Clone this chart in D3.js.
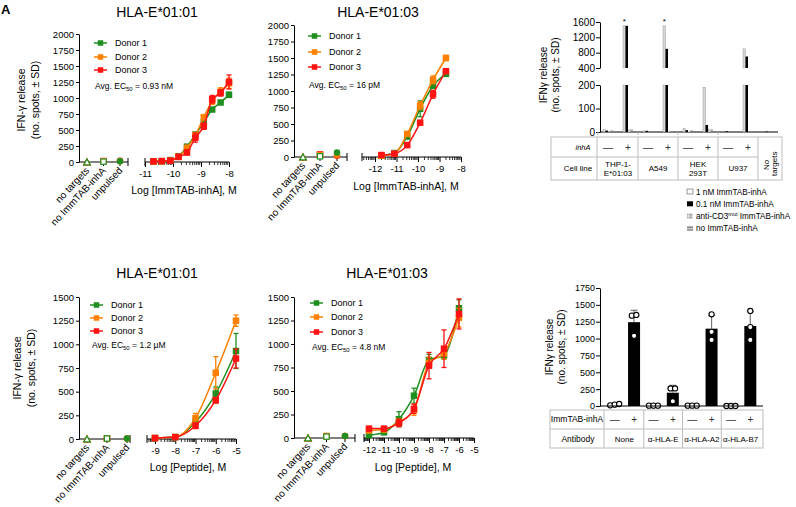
<!DOCTYPE html>
<html>
<head>
<meta charset="utf-8">
<script src="https://cdn.jsdelivr.net/npm/d3@7"></script>
<style>
  body { margin: 0; background: #fff; }
  svg { font-family: "Liberation Sans", Arial, sans-serif; }
</style>
</head>
<body>
<svg id="fig" width="796" height="507"></svg>
<script>
// ---------- data ----------
var donors = ['Donor 1', 'Donor 2', 'Donor 3'];
var donorColors = ['#1f8f1f', '#ff8000', '#ff1212'];
var controls = ['no targets', 'no ImmTAB-inhA', 'unpulsed'];

// ImmTAB-inhA titration, HLA-E*01:01 (log M)
var logImmtab0101 = [-10.7, -10.4, -10.1, -9.8, -9.5, -9.2, -8.9, -8.6, -8.3, -8.0];
var spotsImmtab0101 = [
  [10, 10, 30, 90, 240, 430, 620, 820, 930, 1050],
  [10, 10, 20, 80, 220, 420, 700, 950, 1100, 1230],
  [10, 15, 20, 80, 150, 380, 560, 980, 1080, 1250]
];
var sdImmtab0101 = [
  [5, 5, 10, 10, 20, 30, 40, 30, 20, 40],
  [5, 5, 10, 10, 40, 40, 40, 50, 60, 80],
  [5, 5, 10, 10, 40, 70, 50, 60, 50, 110]
];
var ctrlImmtab0101 = [[0, 5, 10], [0, 10, 10], [0, 15, 20]];

// ImmTAB-inhA titration, HLA-E*01:03
var logImmtab0103 = [-11.7, -11.1, -10.5, -9.9, -9.3, -8.7];
var spotsImmtab0103 = [
  [20, 60, 310, 730, 1080, 1260],
  [20, 50, 350, 780, 1170, 1500],
  [30, 50, 180, 520, 950, 1300]
];
var sdImmtab0103 = [
  [10, 10, 30, 120, 40, 20],
  [10, 10, 20, 60, 60, 40],
  [10, 10, 20, 30, 60, 30]
];
var ctrlImmtab0103 = [[0, 10, 70], [0, 30, 30], [0, 40, 20]];

// peptide titration, HLA-E*01:01
var logPeptide0101 = [-9, -8, -7, -6, -5];
var spotsPeptide0101 = [
  [10, 20, 180, 480, 930],
  [10, 20, 220, 700, 1250],
  [10, 20, 140, 410, 850]
];
var sdPeptide0101 = [
  [5, 5, 40, 70, 185],
  [5, 5, 50, 170, 60],
  [5, 5, 30, 30, 100]
];
var ctrlPeptide0101 = [[0, 5, 5], [0, 5, 5], [0, 5, 5]];

// peptide titration, HLA-E*01:03
var logPeptide0103 = [-12, -11, -10, -9, -8, -7, -6];
var spotsPeptide0103 = [
  [30, 60, 200, 450, 830, 880, 1380],
  [80, 90, 170, 300, 800, 900, 1280],
  [100, 100, 160, 310, 770, 950, 1320]
];
var sdPeptide0103 = [
  [10, 10, 80, 80, 60, 40, 90],
  [10, 10, 30, 60, 60, 60, 100],
  [10, 10, 40, 50, 140, 200, 160]
];
var ctrlPeptide0103 = [[0, 15, 20], [0, 20, 20], [0, 20, 20]];

// cell line panel (4 conditions per bar group)
var cellLines = ['THP-1-|E*01:03', 'A549', 'HEK|293T', 'U937'];
var conditions = ['1 nM ImmTAB-inhA', '0.1 nM ImmTAB-inhA', 'anti-CD3mut ImmTAB-inhA', 'no ImmTAB-inhA'];
var releaseMinus = [[10, 6, 2, 8], [5, 5, 0, 5], [15, 8, 5, 8], [0, 3, 0, 0]];
var releasePlus = [[1500, 1500, 12, 12], [1500, 900, 5, 3], [190, 30, 15, 12], [900, 700, 0, 3]];
var releaseNoTargets = [0, 2, 0, 0];
var saturatedPlus = [[true, false, false, false], [true, false, false, false], [false, false, false, false], [false, false, false, false]];

// antibody blocking panel
var antibodies = ['None', '\u03b1-HLA-E', '\u03b1-HLA-A2', '\u03b1-HLA-B7'];
var blockMinus = [[10, 30, 20], [5, 5, 5], [5, 5, 5], [0, 0, 0]];
var blockPlus = [[1350, 1340, 1040], [260, 260, 70], [1360, 1100, 980], [1410, 1170, 980]];

// ---------- drawing ----------
var FONT = '"Liberation Sans", Arial, sans-serif';
var plain = d3.format('d');
var svg = d3.select('#fig');

svg.append('text').attr('x', 1).attr('y', 14).attr('font-size', 13).attr('font-weight', 'bold').text('A');

function styleAxis(sel, size) {
  sel.attr('font-family', FONT).attr('font-size', size);
  sel.selectAll('text').attr('fill', '#000');
  sel.selectAll('line, path').attr('stroke', '#000');
}

function marker(g, shape, x, y, color, s) {
  if (shape === 'square') {
    g.append('rect').attr('x', x - s / 2).attr('y', y - s / 2).attr('width', s).attr('height', s).attr('fill', color);
  } else if (shape === 'osquare') {
    g.append('rect').attr('x', x - s / 2 + 0.6).attr('y', y - s / 2 + 0.6).attr('width', s - 1.2).attr('height', s - 1.2)
      .attr('fill', '#fff').attr('stroke', color).attr('stroke-width', 1.2);
  } else if (shape === 'otri') {
    var h = s * 0.9;
    g.append('path').attr('d', 'M' + x + ',' + (y - h / 2) + 'L' + (x + s / 2) + ',' + (y + h / 2) + 'L' + (x - s / 2) + ',' + (y + h / 2) + 'Z')
      .attr('fill', '#fff').attr('stroke', color).attr('stroke-width', 1.2);
  } else {
    g.append('circle').attr('cx', x).attr('cy', y).attr('r', s / 2).attr('fill', color);
  }
}

function yLabel(g, x, y, gap, size, first) {
  g.append('text').attr('transform', 'translate(' + x + ',' + y + ') rotate(-90)')
    .attr('text-anchor', 'middle').attr('font-size', size).text(first);
  g.append('text').attr('transform', 'translate(' + (x + gap) + ',' + y + ') rotate(-90)')
    .attr('text-anchor', 'middle').attr('font-size', size).text('(no. spots, \u00b1 SD)');
}

function dosePanel(c) {
  var g = svg.append('g');
  var y = d3.scaleLinear().domain([0, c.yMax]).range([c.y0, c.y1]);
  var x = d3.scaleLinear().domain(c.xDom).range(c.xRange);
  var cx = d3.scalePoint().domain(controls).range(c.ctrlX);

  g.append('text').attr('x', c.titleX).attr('y', c.titleY).attr('text-anchor', 'middle')
    .attr('font-size', 14).text(c.title);

  var ya = g.append('g').attr('transform', 'translate(' + c.axX + ',0)')
    .call(d3.axisLeft(y).tickValues(d3.range(0, c.yMax + 1, c.yStep)).tickFormat(plain)
      .tickSize(3).tickPadding(2).tickSizeOuter(0));
  styleAxis(ya, 9.5);

  // control group axis
  g.append('line').attr('x1', c.axX).attr('x2', c.ctrlEnd).attr('y1', c.y0).attr('y2', c.y0).attr('stroke', '#000');
  g.append('line').attr('x1', c.ctrlEnd).attr('x2', c.ctrlEnd).attr('y1', c.y0 - 4).attr('y2', c.y0 + 4).attr('stroke', '#000');
  controls.forEach(function(k) {
    g.append('line').attr('x1', cx(k)).attr('x2', cx(k)).attr('y1', c.y0).attr('y2', c.y0 + 4).attr('stroke', '#000');
    g.append('text').attr('transform', 'translate(' + (cx(k) + 3) + ',' + (c.y0 + 9) + ') rotate(-47)')
      .attr('text-anchor', 'end').attr('font-size', 10).text(k);
  });

  // log axis
  g.append('line').attr('x1', c.axStart).attr('x2', c.xRange[1]).attr('y1', c.y0).attr('y2', c.y0).attr('stroke', '#000');
  g.append('line').attr('x1', c.axStart).attr('x2', c.axStart).attr('y1', c.y0 - 4).attr('y2', c.y0 + 4).attr('stroke', '#000');
  var xa = g.append('g').attr('transform', 'translate(0,' + c.y0 + ')')
    .call(d3.axisBottom(x).tickValues(d3.range(c.xDom[0], c.xDom[1] + 1)).tickSize(5).tickSizeOuter(0)
      .tickFormat(function(d) { return String(d); }));
  xa.select('.domain').remove();
  styleAxis(xa, 9.5);
  var lo = Math.floor(x.invert(c.axStart));
  for (var dec = lo; dec < c.xDom[1]; dec++) {
    for (var k = 2; k < 10; k++) {
      var lx = x(dec + Math.log10(k));
      if (lx < c.axStart || lx > c.xRange[1]) continue;
      g.append('line').attr('x1', lx).attr('x2', lx).attr('y1', c.y0).attr('y2', c.y0 + 3).attr('stroke', '#000').attr('stroke-width', 0.8);
    }
  }

  var line = d3.line().x(function(d) { return x(d[0]); }).y(function(d) { return y(d[1]); }).curve(d3.curveMonotoneX);
  var shapes = ['otri', 'osquare', 'circle'];

  [2, 1, 0].forEach(function(i) {
    var col = donorColors[i];
    controls.forEach(function(k, j) {
      marker(g, shapes[j], cx(k), y(c.ctrl[i][j]), col, 6.5);
    });
  });

  donors.forEach(function(dn, i) {
    var col = donorColors[i];
    var pts = c.logs.map(function(l, j) { return [l, c.means[i][j]]; });
    g.append('path').attr('d', line(pts)).attr('fill', 'none').attr('stroke', col).attr('stroke-width', 1.5);
    pts.forEach(function(p, j) {
      var sd = c.sds[i][j];
      var px = x(p[0]);
      var ya1 = y(Math.max(0, p[1] - sd)), ya2 = y(p[1] + sd);
      g.append('line').attr('x1', px).attr('x2', px).attr('y1', ya1).attr('y2', ya2).attr('stroke', col).attr('stroke-width', 1.3);
      g.append('line').attr('x1', px - 2.5).attr('x2', px + 2.5).attr('y1', ya2).attr('y2', ya2).attr('stroke', col).attr('stroke-width', 1.3);
      g.append('line').attr('x1', px - 2.5).attr('x2', px + 2.5).attr('y1', ya1).attr('y2', ya1).attr('stroke', col).attr('stroke-width', 1.3);
    });
    pts.forEach(function(p) { marker(g, 'square', x(p[0]), y(p[1]), col, 6.5); });
  });

  // legend
  donors.forEach(function(dn, i) {
    var ly = c.legY[i];
    g.append('line').attr('x1', c.legX).attr('x2', c.legX + 13).attr('y1', ly).attr('y2', ly).attr('stroke', donorColors[i]).attr('stroke-width', 1.5);
    marker(g, 'square', c.legX + 6.5, ly, donorColors[i], 5.5);
    g.append('text').attr('x', c.legX + 21).attr('y', ly + 3.3).attr('font-size', 9).text(dn);
  });
  var ec = g.append('text').attr('x', c.ecX).attr('y', c.ecY).attr('font-size', 8.5);
  ec.append('tspan').text('Avg. EC');
  ec.append('tspan').attr('font-size', 6).attr('dy', 2).text('50');
  ec.append('tspan').attr('dy', -2).text(c.ec50);

  g.append('text').attr('x', c.xlabX).attr('y', c.xlabY).attr('text-anchor', 'middle').attr('font-size', 10.5).text(c.xlab);
  if (c.ylab) yLabel(g, c.ylab[0], c.ylab[1], 13.5, 10.5, 'IFN-\u03b3 release');
}

dosePanel({
  title: 'HLA-E*01:01', titleX: 157, titleY: 17,
  yMax: 2000, yStep: 250, y0: 162, y1: 34, axX: 79,
  ctrlX: [87, 120], ctrlEnd: 128,
  xDom: [-11, -8], xRange: [145, 229], axStart: 145,
  logs: logImmtab0101, means: spotsImmtab0101, sds: sdImmtab0101, ctrl: ctrlImmtab0101,
  legX: 94, legY: [43, 57, 70], ecX: 95, ecY: 89, ec50: ' =  0.93 nM',
  xlab: 'Log [ImmTAB-inhA], M', xlabX: 184, xlabY: 194, ylab: [25, 100]
});

dosePanel({
  title: 'HLA-E*01:03', titleX: 378, titleY: 17,
  yMax: 2000, yStep: 250, y0: 157, y1: 25, axX: 294,
  ctrlX: [303, 337], ctrlEnd: 347,
  xDom: [-12, -8], xRange: [375, 461], axStart: 362,
  logs: logImmtab0103, means: spotsImmtab0103, sds: sdImmtab0103, ctrl: ctrlImmtab0103,
  legX: 308, legY: [36, 52, 67], ecX: 309, ecY: 88, ec50: ' = 16 pM',
  xlab: 'Log [ImmTAB-inhA], M', xlabX: 406, xlabY: 190, ylab: null
});

dosePanel({
  title: 'HLA-E*01:01', titleX: 157, titleY: 278,
  yMax: 1500, yStep: 250, y0: 439, y1: 297, axX: 79,
  ctrlX: [87, 127], ctrlEnd: 130,
  xDom: [-9, -5], xRange: [155, 236], axStart: 147,
  logs: logPeptide0101, means: spotsPeptide0101, sds: sdPeptide0101, ctrl: ctrlPeptide0101,
  legX: 90, legY: [305, 318, 331], ecX: 92, ecY: 348, ec50: ' =  1.2 \u00b5M',
  xlab: 'Log [Peptide], M', xlabX: 188, xlabY: 471, ylab: [21, 368]
});

dosePanel({
  title: 'HLA-E*01:03', titleX: 387, titleY: 278,
  yMax: 1500, yStep: 250, y0: 438, y1: 297, axX: 294,
  ctrlX: [308, 345], ctrlEnd: 355,
  xDom: [-12, -5], xRange: [369, 474], axStart: 364,
  logs: logPeptide0103, means: spotsPeptide0103, sds: sdPeptide0103, ctrl: ctrlPeptide0103,
  legX: 310, legY: [303, 317, 332], ecX: 312, ecY: 350, ec50: ' =  4.8 nM',
  xlab: 'Log [Peptide], M', xlabX: 413, xlabY: 471, ylab: null
});

// ---------- cell line panel (top right) ----------
(function() {
  var g = svg.append('g');
  var defs = svg.append('defs');
  var p1 = defs.append('pattern').attr('id', 'dots').attr('patternUnits', 'userSpaceOnUse').attr('width', 1.4).attr('height', 1.4);
  p1.append('rect').attr('width', 1.4).attr('height', 1.4).attr('fill', '#ddd');
  p1.append('rect').attr('width', 0.7).attr('height', 0.7).attr('fill', '#777');
  var p2 = defs.append('pattern').attr('id', 'hlines').attr('patternUnits', 'userSpaceOnUse').attr('width', 2).attr('height', 1.6);
  p2.append('rect').attr('width', 2).attr('height', 1.6).attr('fill', '#ddd');
  p2.append('rect').attr('width', 2).attr('height', 0.8).attr('fill', '#777');
  var fills = ['#d6d6d6', '#000', 'url(#dots)', 'url(#hlines)'];

  var groups = [];
  cellLines.forEach(function(cl) { groups.push(cl + ' -'); groups.push(cl + ' +'); });
  groups.push('No targets');
  var values = [];
  cellLines.forEach(function(cl, i) { values.push(releaseMinus[i]); values.push(releasePlus[i]); });
  values.push(releaseNoTargets);

  var x = d3.scaleBand().domain(groups).range([598, 778]);
  var sub = d3.scaleBand().domain(conditions).range([-5, 5]);
  var yLow = d3.scaleLinear().domain([0, 200]).range([132, 85]);
  var yHigh = d3.scaleLinear().domain([400, 1600]).range([68, 22]);

  var a1 = g.append('g').attr('transform', 'translate(600,0)')
    .call(d3.axisLeft(yLow).tickValues([0, 100, 200]).tickFormat(plain).tickSize(4).tickPadding(1).tickSizeOuter(0));
  var a2 = g.append('g').attr('transform', 'translate(600,0)')
    .call(d3.axisLeft(yHigh).tickValues([400, 800, 1200, 1600]).tickFormat(plain).tickSize(4).tickPadding(1).tickSizeOuter(0));
  styleAxis(a1, 10); styleAxis(a2, 10);
  g.append('line').attr('x1', 600).attr('x2', 778).attr('y1', 132).attr('y2', 132).attr('stroke', '#000');
  yLabel(g, 547, 75, 11.5, 10, 'IFN\u03b3 release');

  groups.forEach(function(gr, gi) {
    var c0 = x(gr) + x.bandwidth() / 2;
    conditions.forEach(function(cd, ci) {
      var v = values[gi][ci];
      var bx = c0 + sub(cd), bw = sub.bandwidth();
      var stroke = ci === 0 ? '#8a8a8a' : 'none';
      if (v > 0) {
        var top = yLow(Math.min(v, 200));
        g.append('rect').attr('x', bx).attr('y', top).attr('width', bw).attr('height', 132 - top)
          .attr('fill', fills[ci]).attr('stroke', stroke).attr('stroke-width', 0.4);
      }
      if (v > 400) {
        g.append('rect').attr('x', bx).attr('y', yHigh(v)).attr('width', bw).attr('height', 68 - yHigh(v))
          .attr('fill', fills[ci]).attr('stroke', stroke).attr('stroke-width', 0.4);
      }
    });
  });
  cellLines.forEach(function(cl, i) {
    var c0 = x(cl + ' +') + x.bandwidth() / 2;
    conditions.forEach(function(cd, ci) {
      if (saturatedPlus[i][ci]) {
        g.append('text').attr('x', c0 + sub(cd) + sub.bandwidth() / 2).attr('y', 24)
          .attr('text-anchor', 'middle').attr('font-size', 8).text('*');
      }
    });
    g.append('line').attr('x1', x(cl + ' -')).attr('x2', x(cl + ' -')).attr('y1', 132).attr('y2', 135).attr('stroke', '#bbb');
  });

  // table
  var tl = 551, tr = 782, t0 = 137, t1 = 157, t2 = 180;
  var lc = '#bdbdbd';
  g.append('rect').attr('x', tl).attr('y', t0).attr('width', tr - tl).attr('height', t2 - t0).attr('fill', 'none').attr('stroke', lc);
  g.append('line').attr('x1', tl).attr('x2', x('No targets')).attr('y1', t1).attr('y2', t1).attr('stroke', lc);
  g.append('line').attr('x1', 597).attr('x2', 597).attr('y1', t0).attr('y2', t2).attr('stroke', lc);
  cellLines.forEach(function(cl) {
    var right = x(cl + ' +') + x.bandwidth();
    g.append('line').attr('x1', right).attr('x2', right).attr('y1', t0).attr('y2', t2).attr('stroke', lc);
    ['-', '+'].forEach(function(s) {
      g.append('text').attr('x', x(cl + ' ' + s) + x.bandwidth() / 2).attr('y', 151).attr('text-anchor', 'middle')
        .attr('font-size', 10).attr('fill', '#333').text(s === '-' ? '\u2014' : '+');
    });
    var mid = x(cl + ' -') + x.bandwidth();
    var parts = cl.split('|');
    parts.forEach(function(p, k) {
      g.append('text').attr('x', mid).attr('y', parts.length === 1 ? 171 : 167 + k * 9).attr('text-anchor', 'middle')
        .attr('font-size', 8).text(p);
    });
  });
  g.append('text').attr('x', 583).attr('y', 150).attr('text-anchor', 'middle').attr('font-size', 7.5)
    .attr('font-style', 'italic').text('inhA');
  g.append('text').attr('x', 578).attr('y', 171).attr('text-anchor', 'middle').attr('font-size', 8).text('Cell line');
  var nx = x('No targets') + x.bandwidth() / 2 + 2;
  g.append('text').attr('transform', 'translate(' + (nx - 1) + ',170) rotate(-90)').attr('font-size', 8).text('No');
  g.append('text').attr('transform', 'translate(' + (nx + 7) + ',176) rotate(-90)').attr('font-size', 8).text('targets');

  // legend
  conditions.forEach(function(cd, i) {
    var ly = 192 + i * 12.3;
    g.append('rect').attr('x', 687).attr('y', ly - 3).attr('width', 6).attr('height', 5)
      .attr('fill', i === 0 ? '#fff' : fills[i]).attr('stroke', i === 0 ? '#555' : 'none').attr('stroke-width', 0.6);
    var t = g.append('text').attr('x', 696).attr('y', ly + 2.5).attr('font-size', 8.2);
    if (cd.indexOf('mut') > 0) {
      t.append('tspan').text('anti-CD3');
      t.append('tspan').attr('font-size', 5.5).attr('dy', -3).text('mut');
      t.append('tspan').attr('dy', 3).text(' ImmTAB-inhA');
    } else {
      t.text(cd);
    }
  });
})();

// ---------- antibody blocking panel (bottom right) ----------
(function() {
  var g = svg.append('g');
  var groups = [];
  antibodies.forEach(function(ab) { groups.push(ab + ' -'); groups.push(ab + ' +'); });
  var pts = [];
  antibodies.forEach(function(ab, i) { pts.push(blockMinus[i]); pts.push(blockPlus[i]); });

  var x = d3.scaleBand().domain(groups).range([605, 760]);
  var y = d3.scaleLinear().domain([0, 1750]).range([406, 288]);
  var ya = g.append('g').attr('transform', 'translate(600,0)')
    .call(d3.axisLeft(y).tickValues(d3.range(0, 1751, 250)).tickFormat(plain).tickSize(4).tickPadding(1).tickSizeOuter(0));
  styleAxis(ya, 9);
  yLabel(g, 553, 347, 11.5, 10, 'IFN\u03b3 release');

  var bw = 12;
  groups.forEach(function(gr, gi) {
    var c0 = x(gr) + x.bandwidth() / 2;
    var vals = pts[gi];
    var m = d3.mean(vals), sd = d3.deviation(vals);
    g.append('rect').attr('x', c0 - bw / 2).attr('y', y(m)).attr('width', bw).attr('height', 406 - y(m)).attr('fill', '#000');
    if (m > 100) {
      g.append('line').attr('x1', c0).attr('x2', c0).attr('y1', y(m)).attr('y2', y(m + sd)).attr('stroke', '#777').attr('stroke-width', 1.2);
      g.append('line').attr('x1', c0 - 3.5).attr('x2', c0 + 3.5).attr('y1', y(m + sd)).attr('y2', y(m + sd)).attr('stroke', '#777').attr('stroke-width', 1.2);
    }
    // spread overlapping points sideways
    var order = vals.map(function(v, k) { return k; }).sort(function(a, b) { return vals[a] - vals[b]; });
    var clusters = [];
    order.forEach(function(k) {
      var last = clusters[clusters.length - 1];
      if (last && Math.abs(y(vals[last[last.length - 1]]) - y(vals[k])) < 6) last.push(k);
      else clusters.push([k]);
    });
    clusters.forEach(function(cl) {
      cl.forEach(function(k, n) {
        var off = (n - (cl.length - 1) / 2) * 4.5;
        g.append('circle').attr('cx', c0 + off).attr('cy', y(vals[k])).attr('r', 2.6)
          .attr('fill', '#fff').attr('stroke', '#000').attr('stroke-width', 1.1);
      });
    });
  });
  g.append('line').attr('x1', 600).attr('x2', 763).attr('y1', 406).attr('y2', 406).attr('stroke', '#000');

  var tl = 550, tr = 763, t0 = 410, t1 = 429, t2 = 448, lc = '#bdbdbd';
  g.append('rect').attr('x', tl).attr('y', t0).attr('width', tr - tl).attr('height', t2 - t0).attr('fill', 'none').attr('stroke', lc);
  g.append('line').attr('x1', tl).attr('x2', tr).attr('y1', t1).attr('y2', t1).attr('stroke', lc);
  g.append('line').attr('x1', 604).attr('x2', 604).attr('y1', t0).attr('y2', t2).attr('stroke', lc);
  antibodies.forEach(function(ab, i) {
    var left = x(ab + ' -'), right = x(ab + ' +') + x.bandwidth();
    if (i < antibodies.length - 1) g.append('line').attr('x1', right).attr('x2', right).attr('y1', t0).attr('y2', t2).attr('stroke', lc);
    ['-', '+'].forEach(function(s) {
      g.append('text').attr('x', x(ab + ' ' + s) + x.bandwidth() / 2).attr('y', 423).attr('text-anchor', 'middle')
        .attr('font-size', 10).attr('fill', '#333').text(s === '-' ? '\u2014' : '+');
    });
    g.append('text').attr('x', (left + right) / 2).attr('y', 442).attr('text-anchor', 'middle').attr('font-size', 8).text(ab);
  });
  g.append('text').attr('x', 577).attr('y', 422).attr('text-anchor', 'middle').attr('font-size', 8.5).text('ImmTAB-inhA');
  g.append('text').attr('x', 578).attr('y', 442).attr('text-anchor', 'middle').attr('font-size', 8.5).text('Antibody');
})();
</script>
</body>
</html>
